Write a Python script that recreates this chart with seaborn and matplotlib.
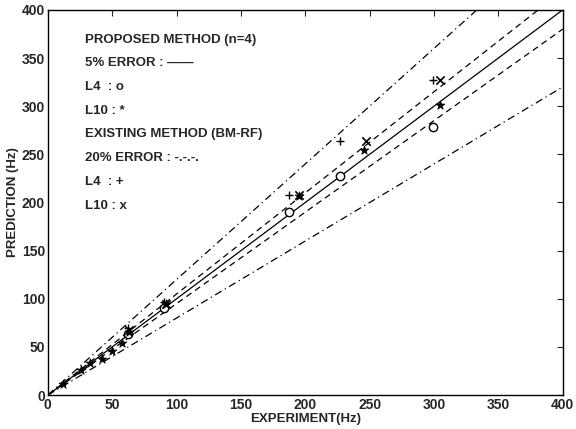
"""
Prediction vs experiment scatter with error bands (BM-RF comparison)
"""

import matplotlib
matplotlib.use('Agg')
import matplotlib.pyplot as plt
import seaborn as sns
import pandas as pd
import numpy as np

sns.set_style('white')
plt.rcParams['font.family'] = ['Liberation Sans', 'DejaVu Sans']

# Data (Hz)
prop_l4_exp = [62, 90, 187, 227, 299]
prop_l4_pred = [63, 90, 190, 228, 278]

prop_l10_exp = [12, 26, 33, 42, 50, 58, 63, 92, 195, 246, 305]
prop_l10_pred = [12, 26, 33, 37, 46, 54, 66, 95, 207, 255, 301]

exist_l4_exp = [62, 90, 187, 227, 299]
exist_l4_pred = [70, 97, 208, 264, 327]

exist_l10_exp = [63, 92, 195, 247, 305]
exist_l10_pred = [68, 95, 208, 264, 327]

legend_lines = ['PROPOSED METHOD (n=4)', '5% ERROR : \u2014\u2014',
                'L4  : o', 'L10 : *', 'EXISTING METHOD (BM-RF)',
                '20% ERROR : -.-.-.', 'L4  : +', 'L10 : x']

ref = pd.DataFrame({'x': [0, 400]})

fig, ax = plt.subplots(figsize=(5.76, 4.29), dpi=100)
fig.subplots_adjust(left=0.083, right=0.977, bottom=0.079, top=0.977)

# y = x, +/-5% (dashed), +/-20% (dash-dot)
for slope, ls in [(1.0, '-'), (1.05, (0, (5, 3.5))), (0.95, (0, (5, 3.5))),
                  (1.2, (0, (6, 3, 1, 3))), (0.8, (0, (6, 3, 1, 3)))]:
    sns.lineplot(x=ref['x'], y=ref['x'] * slope, ax=ax, color='black',
                 linestyle=ls, linewidth=0.9)

sns.scatterplot(x=prop_l4_exp, y=prop_l4_pred, ax=ax, marker='o', s=36,
                facecolor='white', edgecolor='black', linewidth=1.0, zorder=3)
sns.scatterplot(x=prop_l10_exp, y=prop_l10_pred, ax=ax, marker='*', s=45,
                color='black', edgecolor='black', zorder=4)
sns.scatterplot(x=exist_l4_exp, y=exist_l4_pred, ax=ax, marker='+', s=36,
                color='black', linewidth=1.0, zorder=4)
sns.scatterplot(x=exist_l10_exp, y=exist_l10_pred, ax=ax, marker='x', s=36,
                color='black', linewidth=1.2, zorder=4)

for i, txt in enumerate(legend_lines):
    ax.text(29, 369 - i * 24.6, txt, fontsize=9.5, va='center', ha='left',
            fontweight='semibold')

ax.set_xlim(0, 400)
ax.set_ylim(0, 400)
ticks = np.arange(0, 401, 50)
ax.set_xticks(ticks)
ax.set_yticks(ticks)
ax.tick_params(direction='in', length=4, width=0.8, labelsize=10,
               top=True, right=True, pad=2)
for lbl in ax.get_xticklabels() + ax.get_yticklabels():
    lbl.set_fontweight('semibold')
ax.set_xlabel('EXPERIMENT(Hz)', fontsize=9.5, labelpad=1, fontweight='semibold')
ax.set_ylabel('PREDICTION (Hz)', fontsize=9.5, labelpad=2, fontweight='semibold')
for sp in ax.spines.values():
    sp.set_color('black')
    sp.set_linewidth(1.0)

plt.savefig('out.png', dpi=100)
